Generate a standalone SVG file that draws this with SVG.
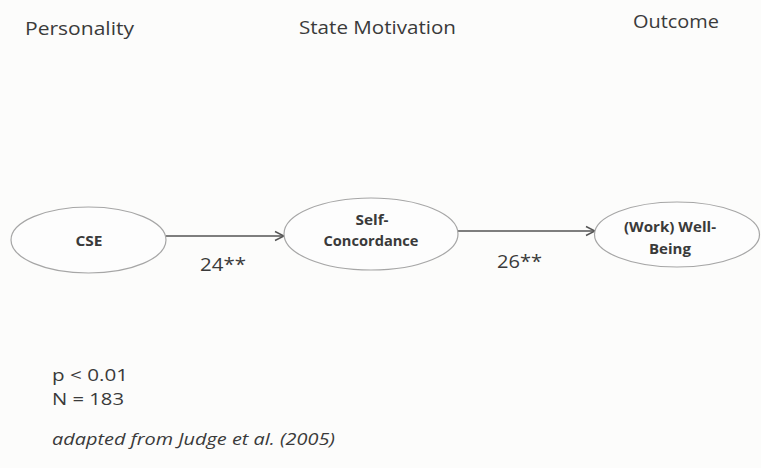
<svg xmlns="http://www.w3.org/2000/svg" width="761" height="468" viewBox="0 0 761 468">
  <defs>
    <marker id="arrow" markerWidth="12" markerHeight="12" refX="10" refY="6" orient="auto" markerUnits="userSpaceOnUse">
      <path d="M1,1.5 L10,6 L1,10.5" fill="none" stroke="#555" stroke-width="1.4"/>
    </marker>
  </defs>
  <style>
    .bg { fill: #fcfcfb; }
    .node { fill: #fdfdfd; stroke: #a6a6a6; stroke-width: 1.2; }
    .edge { stroke: #555; stroke-width: 1.5; fill: none; }
    text { font-family: "Open Sans", "Liberation Sans", sans-serif; fill: #3a3a3a; }
    .hdr { font-size: 19px; }
    .lbl { font-size: 15px; font-weight: bold; text-anchor: middle; }
    .coef { font-size: 19px; }
    .note { font-size: 17px; }
  </style>
  <rect class="bg" x="0" y="0" width="761" height="468"/>

  <!-- column headings -->
  <text class="hdr" x="25" y="35" textLength="109" lengthAdjust="spacingAndGlyphs">Personality</text>
  <text class="hdr" x="299" y="34" textLength="157" lengthAdjust="spacingAndGlyphs">State Motivation</text>
  <text class="hdr" x="633" y="28" textLength="86" lengthAdjust="spacingAndGlyphs">Outcome</text>

  <!-- connectors -->
  <g id="connectors">
    <line class="edge" x1="166" y1="236" x2="284" y2="236" marker-end="url(#arrow)"/>
    <line class="edge" x1="458" y1="231" x2="595" y2="231" marker-end="url(#arrow)"/>
    <text class="coef" x="200" y="271" textLength="46" lengthAdjust="spacingAndGlyphs">24**</text>
    <text class="coef" x="497" y="268" textLength="45" lengthAdjust="spacingAndGlyphs">26**</text>
  </g>

  <g id="node-cse">
    <ellipse class="node" cx="88.5" cy="240" rx="77.5" ry="33"/>
    <text class="lbl" x="89" y="246" textLength="27" lengthAdjust="spacingAndGlyphs">CSE</text>
  </g>

  <g id="node-self-concordance">
    <ellipse class="node" cx="371" cy="234" rx="87" ry="36"/>
    <text class="lbl" x="372" y="225" textLength="33" lengthAdjust="spacingAndGlyphs">Self-</text>
    <text class="lbl" x="371" y="246" textLength="95" lengthAdjust="spacingAndGlyphs">Concordance</text>
  </g>

  <g id="node-well-being">
    <ellipse class="node" cx="677" cy="234.5" rx="82.5" ry="32.5"/>
    <text class="lbl" x="670" y="232" textLength="92" lengthAdjust="spacingAndGlyphs">(Work) Well-</text>
    <text class="lbl" x="670" y="254" textLength="42" lengthAdjust="spacingAndGlyphs">Being</text>
  </g>

  <!-- footnotes -->
  <text class="note" x="52" y="381" textLength="76" lengthAdjust="spacingAndGlyphs">p &lt; 0.01</text>
  <text class="note" x="52" y="405" textLength="72" lengthAdjust="spacingAndGlyphs">N = 183</text>
  <text class="note" x="52" y="445" font-style="italic" textLength="283" lengthAdjust="spacingAndGlyphs">adapted from Judge et al. (2005)</text>
</svg>
